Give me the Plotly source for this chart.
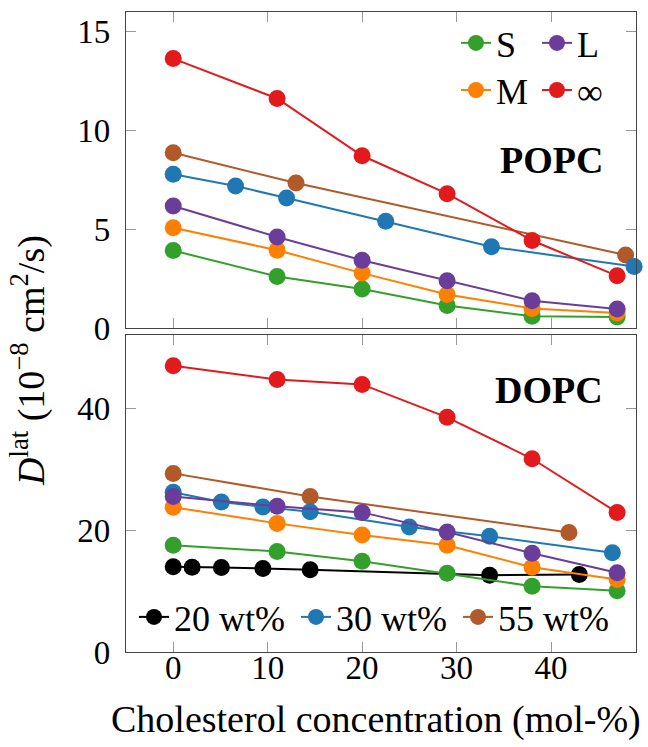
import plotly.graph_objects as go

# ---------------- data ----------------
x_main = [0, 11, 20, 29, 38, 47]

popc_S = [3.92, 2.61, 1.97, 1.14, 0.59, 0.56]
popc_M = [5.08, 3.94, 2.78, 1.70, 0.99, 0.76]
popc_L = [6.18, 4.61, 3.43, 2.39, 1.38, 0.96]
popc_inf = [13.64, 11.62, 8.72, 6.80, 4.43, 2.64]
popc_30_x = [0, 6.6, 12.0, 22.5, 33.7, 48.8]
popc_30_y = [7.79, 7.19, 6.58, 5.40, 4.11, 3.11]
popc_55_x = [0, 13.0, 47.9]
popc_55_y = [8.87, 7.34, 3.70]

dopc_S = [17.5, 16.5, 14.9, 12.9, 10.8, 10.05]
dopc_M = [23.75, 21.1, 19.2, 17.5, 13.9, 11.9]
dopc_L = [25.5, 23.9, 22.9, 19.7, 16.2, 13.0]
dopc_inf = [46.96, 44.7, 43.9, 38.5, 31.7, 22.9]
dopc_20_x = [0, 2.0, 5.1, 9.5, 14.5, 33.5, 43.0]
dopc_20_y = [14.0, 13.9, 13.86, 13.7, 13.5, 12.6, 12.7]
dopc_30_x = [0, 5.1, 9.5, 14.5, 25.0, 33.5, 46.5]
dopc_30_y = [26.2, 24.6, 23.8, 23.0, 20.5, 19.0, 16.3]
dopc_55_x = [0, 14.5, 41.9]
dopc_55_y = [29.3, 25.5, 19.6]

x_ticks = [0, 10, 20, 30, 40]
popc_ticks = [0, 5, 10, 15]
dopc_ticks = [0, 20, 40]

colors = {
    "S": "#33a02c", "M": "#ff7f00", "L": "#6a3d9a", "inf": "#e31a1c",
    "20": "#000000", "30": "#1f78b4", "55": "#b15928",
}

FONT = "Liberation Serif"
fig = go.Figure()


def add(x, y, key, name, axis, legend, show, rank):
    xa, ya = axis
    fig.add_trace(go.Scatter(
        x=x, y=y, mode="lines+markers", name=name,
        line=dict(color=colors[key], width=2),
        marker=dict(color=colors[key], size=17, line=dict(width=0)),
        xaxis=xa, yaxis=ya, legend=legend,
        showlegend=show, legendrank=rank, cliponaxis=False,
    ))


top = ("x", "y")
bot = ("x2", "y2")

# draw order: wt% series first, then S, M, L, inf
add(popc_55_x, popc_55_y, "55", "55 wt%", top, "legend2", False, 3)
add(popc_30_x, popc_30_y, "30", "30 wt%", top, "legend2", False, 2)
add(dopc_55_x, dopc_55_y, "55", "55 wt%", bot, "legend2", True, 3)
add(dopc_30_x, dopc_30_y, "30", "30 wt%", bot, "legend2", True, 2)
add(dopc_20_x, dopc_20_y, "20", "20 wt%", bot, "legend2", True, 1)

add(x_main, popc_S, "S", "S", top, "legend", True, 1)
add(x_main, popc_M, "M", "M", top, "legend3", True, 1)
add(x_main, popc_L, "L", "L", top, "legend", True, 2)
add(x_main, popc_inf, "inf", "∞", top, "legend3", True, 2)
add(x_main, dopc_S, "S", "S", bot, "legend", False, 1)
add(x_main, dopc_M, "M", "M", bot, "legend3", False, 1)
add(x_main, dopc_L, "L", "L", bot, "legend", False, 2)
add(x_main, dopc_inf, "inf", "∞", bot, "legend3", False, 2)

axis_common = dict(
    showline=True, linecolor="#444444", linewidth=1.2, mirror="ticks",
    ticks="inside", ticklen=10, tickwidth=1, tickcolor="#999999",
    showgrid=False, zeroline=False,
    tickfont=dict(family=FONT, size=33, color="black"),
)

legend_common = dict(
    orientation="h", xanchor="left", yanchor="middle",
    entrywidthmode="pixels", bgcolor="rgba(0,0,0,0)",
    font=dict(family=FONT, size=36), traceorder="normal", itemwidth=30,
)

fig.update_layout(
    width=648, height=747,
    margin=dict(l=126, r=12, t=12, b=95),
    paper_bgcolor="white", plot_bgcolor="white",
    font=dict(family=FONT, color="black"),
    xaxis=dict(domain=[0, 1], range=[-5, 49], tickvals=x_ticks,
               showticklabels=False, anchor="y", **axis_common),
    yaxis=dict(domain=[0.50625, 1], range=[0, 16], tickvals=popc_ticks,
               anchor="x", ticklabelstandoff=8, **axis_common),
    xaxis2=dict(domain=[0, 1], range=[-5, 49], tickvals=x_ticks,
                anchor="y2", ticklabelstandoff=-14, **axis_common),
    yaxis2=dict(domain=[0, 0.4953], range=[0, 52], tickvals=dopc_ticks,
                anchor="x2", ticklabelstandoff=8, **axis_common),
    legend=dict(x=0.647, y=0.9516, entrywidth=36, **legend_common),
    legend3=dict(x=0.647, y=0.878, entrywidth=36, **legend_common),
    legend2=dict(x=0.0157, y=0.0547, entrywidth=117, **legend_common),
    annotations=[
        dict(text="<b>POPC</b>", x=40.0, y=8.5, xref="x", yref="y",
             showarrow=False, font=dict(family=FONT, size=38)),
        dict(text="<b>DOPC</b>", x=39.8, y=42.9, xref="x2", yref="y2",
             showarrow=False, font=dict(family=FONT, size=38)),
        dict(text="Cholesterol concentration (mol-%)", x=0.49, y=-0.106,
             xref="paper", yref="paper", xanchor="center", yanchor="middle",
             showarrow=False, font=dict(family=FONT, size=38)),
        dict(text="<i>D</i><sup>lat</sup> (10<sup>−8</sup> cm<sup>2</sup>/s)",
             x=-0.19, y=0.455, xref="paper", yref="paper", textangle=-90,
             xanchor="center", yanchor="middle", showarrow=False,
             font=dict(family=FONT, size=38)),
    ],
)

fig.write_html("out.html")
